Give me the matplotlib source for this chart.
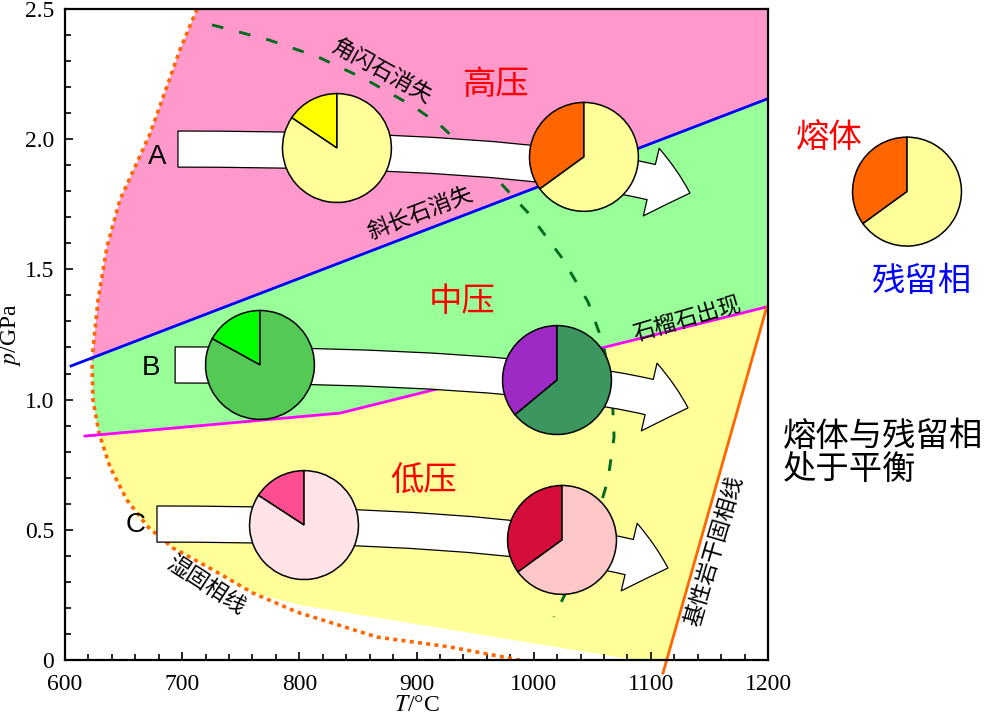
import matplotlib.pyplot as plt
from matplotlib.patches import Polygon, FancyArrowPatch
from matplotlib.ticker import MultipleLocator, FuncFormatter

plt.rcParams['font.family'] = ['Liberation Serif', 'DejaVu Serif']
plt.rcParams['mathtext.fontset'] = 'stix'
CJK = ['Noto Sans CJK SC', 'DejaVu Sans']

# wet solidus (dotted orange curve)
solidus_T = [712.7, 698.1, 672.5, 646.9, 635.8, 628.2, 623.0, 623.9, 629.0, 638.4,
             652.9, 670.8, 692.2, 726.3, 760.4, 798.0, 866.3, 928.6, 997.0]
solidus_p = [2.50, 2.343, 2.02, 1.767, 1.586, 1.382, 1.152, 0.998, 0.872, 0.741,
             0.614, 0.511, 0.43, 0.346, 0.257, 0.184, 0.088, 0.05, -0.008]

# plagioclase-out (blue), garnet-in (magenta), basalt dry solidus (orange)
plag_T = [605.1, 1199.0]
plag_p = [1.129, 2.154]
grt_T = [617.1, 834.7, 1199.0]
grt_p = [0.860, 0.948, 1.356]
dry_T = [1110.4, 1199.0]
dry_p = [-0.05, 1.356]

# amphibole-out (dashed green)
amph_T = [725.5, 774.1, 815.9, 856.0, 897.0, 920.0, 965.3, 996.9, 1024.2, 1046.4,
          1059.2, 1066.9, 1068.6, 1063.4, 1048.1, 1032.7, 1017.3]
amph_p = [2.439, 2.381, 2.316, 2.231, 2.127, 2.055, 1.863, 1.709, 1.544, 1.375,
          1.217, 1.037, 0.856, 0.691, 0.461, 0.307, 0.165]

# pressure fields
high_T = [712.7, 698.1, 672.5, 646.9, 635.8, 628.2, 623.4, 1199.0, 1199.0]
high_p = [2.50, 2.343, 2.02, 1.767, 1.586, 1.382, 1.16, 2.154, 2.50]
mid_T = [623.4, 623.0, 623.9, 629.0, 834.7, 1199.0, 1199.0]
mid_p = [1.16, 1.152, 0.998, 0.865, 0.948, 1.356, 2.154]
low_T = [629.0, 638.4, 652.9, 670.8, 692.2, 726.3, 760.4, 800.6, 1079.6, 1113.8, 1199.0, 834.7]
low_p = [0.865, 0.741, 0.614, 0.511, 0.43, 0.346, 0.257, 0.211, 0.005, 0.0, 1.356, 0.948]

# arrows A, B, C
arrow_names = ['A', 'B', 'C']
arrow_T0 = [696.4, 694.0, 678.5]
arrow_p0 = [1.962, 1.133, 0.522]
arrow_T1 = [1133.4, 1131.7, 1114.6]
arrow_p1 = [1.793, 0.968, 0.353]
name_T = [678.5, 673.0, 660.0]
name_p = [1.93, 1.12, 0.52]

# pies: melt fraction vs residue
pie_T = [832.1, 1042.9, 766.4, 1019.9, 804.0, 1024.2]
pie_p = [1.966, 1.932, 1.133, 1.075, 0.518, 0.461]
melt_frac = [0.156, 0.35, 0.17, 0.36, 0.158, 0.35]
melt_col = ['#ffff00', '#ff6600', '#00ff00', '#9e2ac6', '#ff4d91', '#d40d3a']
resid_col = ['#ffff99', '#ffff99', '#55c955', '#3c9660', '#ffe3e6', '#ffc8c8']

fig = plt.figure(figsize=(10, 7.19), dpi=100)
ax = fig.add_axes([0.065, 0.0821, 0.703, 0.9054])

ax.add_patch(Polygon(list(zip(mid_T, mid_p)), closed=True, fc='#99ff99', ec='none', zorder=1))
ax.add_patch(Polygon(list(zip(high_T, high_p)), closed=True, fc='#ff99cc', ec='none', zorder=1))
ax.add_patch(Polygon(list(zip(low_T, low_p)), closed=True, fc='#ffff99', ec='none', zorder=1))

ax.plot(solidus_T, solidus_p, color='#ff6600', lw=2.6, ls=(0, (1.1, 1.2)), zorder=2)
ax.plot(plag_T, plag_p, color='#0000ff', lw=2, zorder=2)
ax.plot(grt_T, grt_p, color='#ff00ff', lw=2, zorder=2)
ax.plot(dry_T, dry_p, color='#ff6600', lw=2, zorder=2, clip_on=False)
ax.plot(amph_T, amph_p, color='#006b1e', lw=2.1, ls=(0, (4.0, 5.6)), zorder=2)

for i in range(3):
    arr = FancyArrowPatch((arrow_T0[i], arrow_p0[i]), (arrow_T1[i], arrow_p1[i]),
                          arrowstyle='simple,head_length=29,head_width=50,tail_width=26',
                          connectionstyle='angle3,angleA=0,angleB=-19',
                          mutation_scale=1, shrinkA=0, shrinkB=0,
                          fc='white', ec='black', lw=0.9, zorder=3)
    ax.add_patch(arr)
    ax.text(name_T[i], name_p[i], arrow_names[i], family=['Liberation Sans', 'DejaVu Sans'],
            fontsize=20, ha='center', va='center', zorder=4)

for i in range(6):
    pax = ax.inset_axes([pie_T[i] - 47, pie_p[i] - 0.2112, 94, 0.4224], transform=ax.transData)
    pax.pie([melt_frac[i], 1 - melt_frac[i]], colors=[melt_col[i], resid_col[i]],
            startangle=90, counterclock=True,
            wedgeprops=dict(edgecolor='black', linewidth=1.1))
    pax.set_xlim(-1.01, 1.01)
    pax.set_ylim(-1.01, 1.01)
    pax.set_aspect('equal')
    pax.axis('off')

# legend pie
lax = fig.add_axes([0.852, 0.657, 0.11, 0.153])
lax.pie([0.35, 0.65], colors=['#ff6600', '#ffff99'], startangle=90, counterclock=True,
        wedgeprops=dict(edgecolor='black', linewidth=1.1))
lax.set_xlim(-1.01, 1.01)
lax.set_ylim(-1.01, 1.01)
lax.set_aspect('equal')
lax.axis('off')

# field names and curve labels
ax.text(967, 2.21, '高压', family=CJK, fontsize=24, color='#ff0000', ha='center', va='center')
ax.text(939, 1.375, '中压', family=CJK, fontsize=24, color='#ff0000', ha='center', va='center')
ax.text(906, 0.687, '低压', family=CJK, fontsize=24, color='#ff0000', ha='center', va='center')
ax.text(870.5, 2.258, '角闪石消失', family=CJK, fontsize=16, rotation=-29,
        ha='center', va='center', rotation_mode='anchor')
ax.text(903, 1.717, '斜长石消失', family=CJK, fontsize=16, rotation=21,
        ha='center', va='center', rotation_mode='anchor')
ax.text(1130.8, 1.306, '石榴石出现', family=CJK, fontsize=16, rotation=16.5,
        ha='center', va='center', rotation_mode='anchor')
ax.text(720.3, 0.288, '湿固相线', family=CJK, fontsize=16, rotation=-33,
        ha='center', va='center', rotation_mode='anchor')
ax.text(1153.9, 0.419, '基性岩干固相线', family=CJK, fontsize=16, rotation=73.6,
        ha='center', va='center', rotation_mode='anchor')

fig.text(0.829, 1 - 138 / 719, '熔体', family=CJK, fontsize=24, color='#ff0000',
         ha='center', va='center')
fig.text(0.922, 1 - 282 / 719, '残留相', family=CJK, fontsize=24, color='#0000ff',
         ha='center', va='center')
fig.text(0.783, 1 - 453 / 719, '熔体与残留相\n处于平衡', family=CJK, fontsize=24,
         ha='left', va='center', linespacing=0.95)

ax.set_xlim(600, 1200)
ax.set_ylim(0, 2.5)
ax.xaxis.set_major_locator(MultipleLocator(100))
ax.xaxis.set_minor_locator(MultipleLocator(20))
ax.yaxis.set_major_locator(MultipleLocator(0.5))
ax.yaxis.set_minor_locator(MultipleLocator(0.1))
ax.yaxis.set_major_formatter(FuncFormatter(lambda v, _: '0' if abs(v) < 1e-9 else f'{v:.1f}'))
ax.xaxis.set_major_formatter(FuncFormatter(lambda v, _: f'{v:.0f}'))
ax.tick_params(which='both', direction='in', top=False, right=False, labelsize=17)
ax.tick_params(axis='x', which='both', pad=10)
ax.tick_params(axis='y', which='both', pad=8)
ax.tick_params(which='major', length=6, width=1.2)
ax.tick_params(which='minor', length=4, width=1.2)
for s in ax.spines.values():
    s.set_linewidth(1.6)
    s.set_zorder(6)

ax.set_xlabel('$T$/°C', fontsize=17, labelpad=0)
ax.set_ylabel('$p$/GPa', fontsize=17, labelpad=1)

plt.savefig('out.png', dpi=100)
